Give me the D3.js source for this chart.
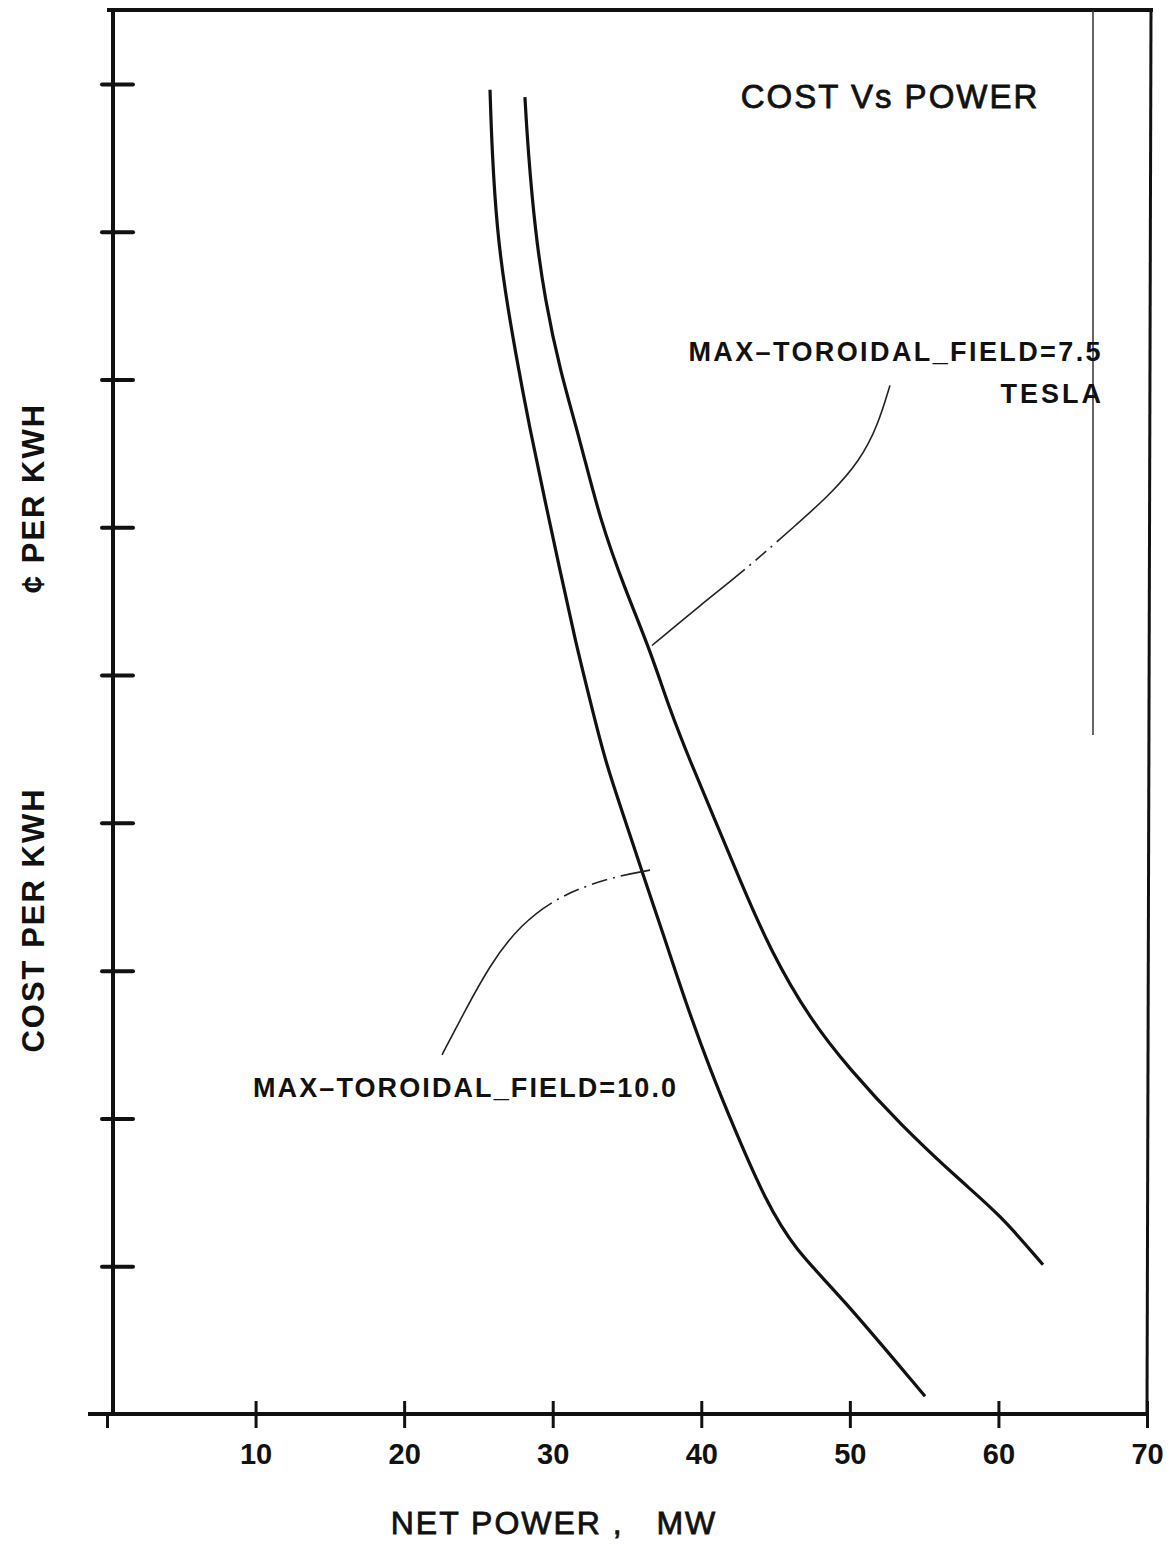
<!DOCTYPE html>
<html>
<head>
<meta charset="utf-8">
<script src="https://cdn.jsdelivr.net/npm/d3@7"></script>
<style>
  body { margin: 0; background: #fff; }
  text { font-family: "Liberation Sans", Arial, sans-serif; fill: #111; }
</style>
</head>
<body>
<script>
// cost vs power -- two curves, unlabeled cost axis

var xTicks = [0, 10, 20, 30, 40, 50, 60, 70];
var xTickLabels = ['', '10', '20', '30', '40', '50', '60', '70'];
var yTicks = [1, 2, 3, 4, 5, 6, 7, 8, 9];

// MAX-TOROIDAL_FIELD=10.0
var field10 = [
  [25.78, 8.96], [25.91, 8.55], [26.25, 8.01], [26.79, 7.60], [27.46, 7.20],
  [28.47, 6.66], [29.48, 6.18], [30.49, 5.71], [31.50, 5.24], [32.51, 4.83],
  [33.52, 4.42], [34.87, 4.02], [36.21, 3.61], [37.56, 3.21], [38.90, 2.80],
  [40.59, 2.33], [42.27, 1.92], [44.29, 1.45], [46.31, 1.11], [49.20, 0.82],
  [55.06, 0.12]
];

// MAX-TOROIDAL_FIELD=7.5 TESLA
var field75 = [
  [28.13, 8.91], [28.34, 8.55], [28.81, 8.01], [29.48, 7.54], [30.49, 7.06],
  [31.84, 6.59], [33.18, 6.05], [34.87, 5.58], [36.55, 5.17], [37.90, 4.76],
  [39.24, 4.42], [40.92, 4.02], [42.61, 3.61], [44.63, 3.14], [47.32, 2.67],
  [50.01, 2.33], [53.38, 1.96], [57.41, 1.58], [60.10, 1.35], [63.00, 1.01]
];

// leader lines from the labels to the curves
var leader75 = [
  [36.68, 5.20], [39.91, 5.47], [43.28, 5.74], [46.31, 6.01],
  [48.66, 6.22], [50.68, 6.45], [51.89, 6.69], [52.70, 6.96]
];
var leader10 = [
  [36.55, 3.68], [33.86, 3.63], [30.49, 3.51], [27.80, 3.31],
  [25.78, 3.04], [24.10, 2.73], [22.55, 2.43]
];

var WIDTH = 1171;
var HEIGHT = 1544;

var x = d3.scaleLinear().domain([0, 70]).range([107, 1147]);
var y = d3.scaleLinear().domain([0, 9.5]).range([1414, 10]);

var svg = d3.select('body')
.append('svg')
.attr('width', WIDTH)
.attr('height', HEIGHT);

// frame: top and right edges
svg.append('line')
.attr('x1', x(0)).attr('x2', 1153)
.attr('y1', y(9.5)).attr('y2', y(9.5))
.attr('stroke', '#111').attr('stroke-width', 4);
svg.append('line')
.attr('x1', 1151).attr('x2', x(70))
.attr('y1', y(9.5)).attr('y2', y(0))
.attr('stroke', '#111').attr('stroke-width', 3);
// faint inner line near the right edge
svg.append('line')
.attr('x1', 1093).attr('x2', 1093)
.attr('y1', y(9.5)).attr('y2', 735)
.attr('stroke', '#333').attr('stroke-width', 1.5);

// x axis
var xAxis = svg.append('g')
.attr('transform', 'translate(0,' + y(0) + ')')
.call(d3.axisBottom(x).tickValues(xTicks).tickSize(14)
  .tickFormat(function(d, i){ return xTickLabels[i]; }));
xAxis.select('.domain')
.attr('d', 'M88,0H' + x(70))
.attr('stroke', '#111').attr('stroke-width', 4);
xAxis.selectAll('.tick line')
.attr('y1', function(d){ return d === 0 ? 0 : -13; })
.attr('stroke', '#111').attr('stroke-width', 3);
xAxis.selectAll('.tick text')
.attr('y', 29).attr('dy', '0.71em')
.attr('font-size', 29).attr('font-weight', 'bold')
.attr('font-family', '"Liberation Sans", Arial, sans-serif')
.attr('fill', '#111');

// y axis, ticks cross the line
var yAxis = svg.append('g')
.attr('transform', 'translate(' + 113 + ',0)')
.call(d3.axisLeft(y).tickValues(yTicks).tickSize(11).tickFormat(''));
yAxis.select('.domain')
.attr('d', 'M0,' + y(9.5) + 'V' + y(0))
.attr('stroke', '#111').attr('stroke-width', 4);
yAxis.selectAll('.tick line')
.attr('x1', 20)
.attr('stroke', '#111').attr('stroke-width', 4)
.attr('stroke-linecap', 'round');

// curves
var line = d3.line()
.x(function(d){ return x(d[0]); })
.y(function(d){ return y(d[1]); })
.curve(d3.curveBasis);

svg.selectAll('path.curve')
.data([field10, field75])
.enter()
.append('path')
.attr('class', 'curve')
.attr('d', line)
.attr('fill', 'none')
.attr('stroke', '#111')
.attr('stroke-width', 3.2);

svg.selectAll('path.leader')
.data([leader75, leader10])
.enter()
.append('path')
.attr('class', 'leader')
.attr('d', line)
.attr('fill', 'none')
.attr('stroke', '#222')
.attr('stroke-width', 1.6)
.attr('stroke-dasharray', function(d, i){ return i === 0 ? '120,6,2,6,14,6,2,6,400' : '30,6,2,6,16,6,2,6,16,6,2,6,400'; });

// labels
svg.append('text')
.attr('x', 890).attr('y', 108)
.attr('text-anchor', 'middle')
.attr('font-size', 33)
.attr('letter-spacing', 2)
.attr('stroke', '#111').attr('stroke-width', 0.8)
.text('COST  Vs  POWER');

svg.append('text')
.attr('x', 1103).attr('y', 361)
.attr('text-anchor', 'end')
.attr('font-size', 27).attr('font-weight', 'bold')
.attr('letter-spacing', 2.4)
.text('MAX\u2013TOROIDAL_FIELD=7.5');
svg.append('text')
.attr('x', 1104).attr('y', 403)
.attr('text-anchor', 'end')
.attr('font-size', 27).attr('font-weight', 'bold')
.attr('letter-spacing', 3)
.text('TESLA');

svg.append('text')
.attr('x', 253).attr('y', 1097)
.attr('font-size', 27).attr('font-weight', 'bold')
.attr('letter-spacing', 2.1)
.text('MAX\u2013TOROIDAL_FIELD=10.0');

svg.append('text')
.attr('x', 554).attr('y', 1534)
.attr('text-anchor', 'middle')
.attr('font-size', 32)
.attr('letter-spacing', 2)
.attr('stroke', '#111').attr('stroke-width', 0.8)
.attr('xml:space', 'preserve')
.text('NET POWER ,   MW');

svg.append('text')
.attr('transform', 'translate(44,920) rotate(-90)')
.attr('text-anchor', 'middle')
.attr('font-size', 31).attr('font-weight', 'bold')
.attr('letter-spacing', 2)
.text('COST PER KWH');

svg.append('text')
.attr('transform', 'translate(44,498) rotate(-90)')
.attr('text-anchor', 'middle')
.attr('font-size', 31).attr('font-weight', 'bold')
.attr('letter-spacing', 2)
.text('\u00a2 PER KWH');
</script>
</body>
</html>
